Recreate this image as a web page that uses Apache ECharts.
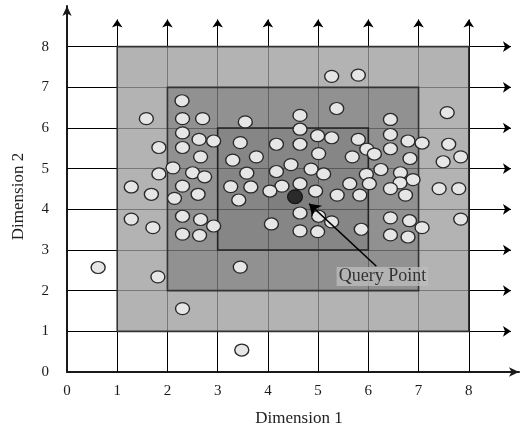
<!DOCTYPE html>
<html><head><meta charset="utf-8">
<script src="https://cdn.jsdelivr.net/npm/echarts@6/dist/echarts.min.js"></script>
<style>html,body{margin:0;padding:0;background:#fff}#c{width:522px;height:432px}</style>
</head><body><div id="c"></div>
<script>
const tickLabels = ['0','1','2','3','4','5','6','7','8'];
const hLineLevels = [1,2,3,4,5,6,7,8];
const vLineLevels = [1,2,3,4,5,6,7,8];
const hLineEnd = 8.84;
const vLineEnd = 8.67;
const regions = [[1,1,8,8],[2,2,7,7],[3,3,6,6],[4,4,5,5]];
const points = [
 [2.29,6.67],[1.58,6.23],[2.30,6.23],[2.70,6.23],[2.30,5.88],[2.63,5.72],[2.92,5.68],[1.83,5.52],
 [2.30,5.52],[2.66,5.29],[3.30,5.21],[2.11,5.02],[1.83,4.87],[2.50,4.90],[2.74,4.80],[2.30,4.57],
 [1.28,4.55],[2.61,4.37],[1.68,4.37],[2.14,4.27],[3.26,4.56],[1.28,3.76],[1.71,3.55],[2.30,3.83],
 [2.66,3.75],[2.92,3.59],[2.30,3.39],[2.64,3.36],[0.62,2.57],[1.81,2.34],[2.30,1.56],[3.45,2.58],
 [3.48,0.54],[5.27,7.27],[5.80,7.30],[5.37,6.48],[4.64,6.31],[3.55,6.15],[4.64,5.97],[4.99,5.81],
 [5.27,5.76],[5.80,5.72],[3.45,5.64],[4.17,5.60],[4.64,5.60],[5.97,5.48],[6.12,5.36],[5.01,5.37],
 [3.77,5.29],[5.68,5.29],[4.46,5.10],[4.86,4.99],[4.17,4.93],[3.58,4.89],[5.11,4.87],[5.96,4.86],
 [3.66,4.55],[4.28,4.57],[4.64,4.63],[4.04,4.45],[4.95,4.45],[5.63,4.63],[6.02,4.63],[5.38,4.35],
 [5.83,4.35],[3.42,4.23],[4.64,3.91],[5.01,3.83],[5.27,3.69],[4.07,3.64],[4.64,3.47],[4.99,3.45],
 [5.86,3.51],[6.44,6.21],[7.57,6.38],[6.44,5.84],[6.79,5.68],[7.07,5.63],[7.60,5.60],[6.44,5.49],
 [6.83,5.25],[7.49,5.17],[7.84,5.29],[6.25,4.98],[6.64,4.90],[6.89,4.73],[6.63,4.65],[6.44,4.51],
 [6.74,4.35],[7.41,4.51],[7.80,4.51],[6.44,3.79],[6.82,3.72],[7.07,3.55],[7.84,3.76],[6.44,3.37],
 [6.79,3.32]
];
const queryPoint = [4.54,4.31];
const arrowFrom = [6.16,2.60];
const arrowTo = [4.82,4.14];
const labelPos = [6.28,2.35];
const labelText = 'Query Point';
const xName = 'Dimension 1';
const yName = 'Dimension 2';

const regionFills = ['rgba(156,156,156,0.77)','rgba(0,0,0,0.19)','rgba(0,0,0,0.08)','rgba(0,0,0,0.05)'];
const regionStrokes = ['#333','#333','#222',null];
const serif = 'Liberation Serif';

const gridLines = [];
hLineLevels.forEach(y => gridLines.push({coords:[[0,y],[hLineEnd,y]]}));
vLineLevels.forEach(x => gridLines.push({coords:[[x,0],[x,vLineEnd]]}));

const chart = echarts.init(document.getElementById('c'));
const axisCommon = {
  type:'value', min:0, max:9, interval:1,
  splitLine:{show:false}, axisTick:{show:false},
  axisLine:{show:true, symbol:['none','arrow'], symbolSize:[7,10], lineStyle:{color:'#1a1a1a', width:2}},
  nameLocation:'middle'
};
chart.setOption({
  animation:false,
  grid:{left:67, right:2, top:6, bottom:60},
  xAxis:Object.assign({}, axisCommon, {
    name:xName, nameGap:38, nameTextStyle:{fontFamily:serif, fontSize:17, color:'#222', padding:[0,0,0,12]},
    axisLabel:{margin:12, fontFamily:serif, fontSize:15, color:'#1a1a1a',
      formatter:v => tickLabels[v] !== undefined ? tickLabels[v] : ''}
  }),
  yAxis:Object.assign({}, axisCommon, {
    name:yName, nameGap:40, nameTextStyle:{fontFamily:serif, fontSize:17, color:'#222', padding:[0,15,0,0]},
    axisLabel:{margin:18, fontFamily:serif, fontSize:15, color:'#1a1a1a',
      formatter:v => tickLabels[v] !== undefined ? tickLabels[v] : ''}
  }),
  series:[
    {
      type:'lines', coordinateSystem:'cartesian2d', z:1, silent:true,
      symbol:['none','arrow'], symbolSize:[6,8],
      lineStyle:{color:'#000', width:1, opacity:1},
      data:gridLines
    },
    {
      type:'custom', z:2, silent:true,
      encode:{x:[0,2], y:[1,3]},
      data:regions,
      renderItem:(params, api) => {
        const p0 = api.coord([api.value(0), api.value(1)]);
        const p1 = api.coord([api.value(2), api.value(3)]);
        const s = regionStrokes[params.dataIndex];
        return {type:'rect',
          shape:{x:p0[0], y:p1[1], width:p1[0]-p0[0], height:p0[1]-p1[1]},
          style:{fill:regionFills[params.dataIndex], stroke:s || 'none', lineWidth:s ? 1.6 : 0}};
      }
    },
    {
      type:'scatter', z:3, data:points, symbol:'circle', symbolSize:[14,12],
      itemStyle:{color:'#e6e6e6', borderColor:'#2a2a2a', borderWidth:1.3, opacity:1}
    },
    {
      type:'scatter', z:4, data:[queryPoint], symbol:'circle', symbolSize:[15,14],
      itemStyle:{color:'#151515', borderColor:'#000', borderWidth:1}
    },
    {
      type:'lines', coordinateSystem:'cartesian2d', z:5, silent:true,
      symbol:['none','arrow'], symbolSize:[8,11],
      lineStyle:{color:'#000', width:1.5, opacity:1},
      data:[{coords:[arrowFrom, arrowTo]}]
    },
    {
      type:'scatter', z:6, data:[labelPos], symbolSize:0, silent:true,
      label:{show:true, position:'inside', formatter:labelText, fontFamily:serif, fontSize:18,
        color:'#111', backgroundColor:'#bdbdbd', padding:[1,2,0,2]}
    }
  ]
});
</script></body></html>
